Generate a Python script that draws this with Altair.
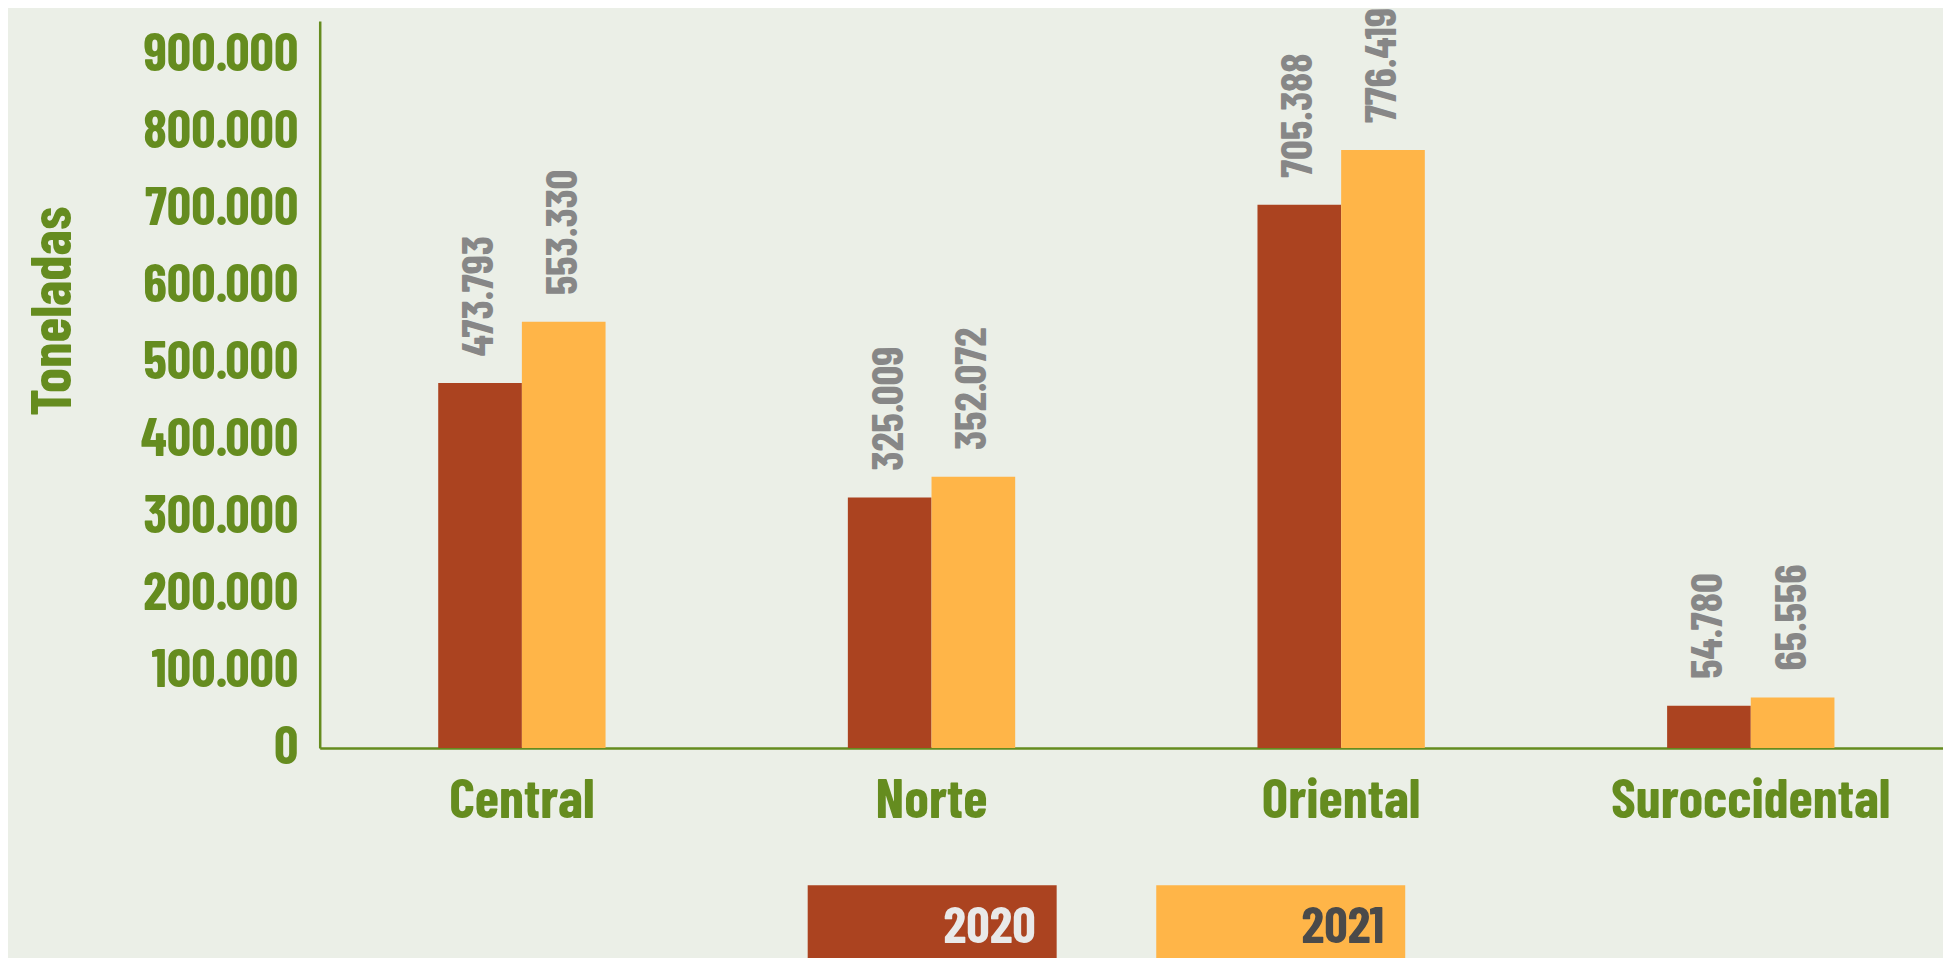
import altair as alt
import pandas as pd

regions = ["Central", "Norte", "Oriental", "Suroccidental"]
years = ["2020", "2021"]
values_2020 = [473793, 325009, 705388, 54780]
values_2021 = [553330, 352072, 776419, 65556]
y_ticks = [0, 100000, 200000, 300000, 400000, 500000, 600000, 700000, 800000, 900000]
bar_colors = ["#AB4320", "#FFB548"]
legend_text_colors = ["#E9E9E9", "#4A4A4A"]

rows = []
for r, a, b in zip(regions, values_2020, values_2021):
    rows.append({"region": r, "year": years[0], "value": a})
    rows.append({"region": r, "year": years[1], "value": b})
df = pd.DataFrame(rows)
df["label"] = df["value"].map(lambda v: f"{v:,}".replace(",", "."))

legend_df = pd.DataFrame({"year": years, "tcolor": legend_text_colors})

FONT = "Barlow Condensed"
GREEN = "#658C1F"
BG = "#EBEFE7"

x_scale = alt.Scale(domain=regions, range=[0, 1640], paddingInner=0.5915, paddingOuter=0.2893)
y_scale = alt.Scale(domain=[0, 944000], nice=False)
color_scale = alt.Scale(domain=years, range=bar_colors)

x_axis = alt.Axis(
    title=None, labelFont=FONT, labelFontSize=56, labelFontWeight="bold",
    labelColor=GREEN, labelPadding=26, labelAngle=0, labelLimit=0, ticks=False,
    domainColor=GREEN, domainWidth=2.5, grid=False,
)
y_axis = alt.Axis(
    values=y_ticks, labelExpr="replace(format(datum.value, ','), ',', '.')",
    title="Toneladas", titleFont=FONT, titleFontSize=57, titleFontWeight="bold",
    titleColor=GREEN, titleAngle=270, titleX=-267, titleY=291,
    titleAlign="center", titleBaseline="middle",
    labelFont=FONT, labelFontSize=54, labelFontWeight="bold", labelColor=GREEN,
    labelPadding=22, labelBaseline="middle", labelLimit=0, ticks=False, grid=False,
    domainColor=GREEN, domainWidth=2.5,
)

base = alt.Chart(df)
bars = base.mark_bar().encode(
    x=alt.X("region:N", scale=x_scale, sort=regions, axis=x_axis),
    xOffset=alt.XOffset("year:N", sort=years),
    y=alt.Y("value:Q", scale=y_scale, axis=y_axis),
    color=alt.Color("year:N", scale=color_scale, legend=None),
)
labels = base.mark_text(
    angle=270, align="left", baseline="middle", dx=27,
    font=FONT, fontSize=44, fontWeight="bold", color="#878787",
).encode(
    x=alt.X("region:N", scale=x_scale, sort=regions, axis=x_axis),
    xOffset=alt.XOffset("year:N", sort=years),
    y=alt.Y("value:Q", scale=y_scale, axis=y_axis),
    text="label:N",
)
main = alt.layer(bars, labels)

leg_scale = alt.Scale(domain=years, range=[490, 1090], paddingInner=0.2857, paddingOuter=0)
leg_rect = alt.Chart(legend_df).mark_rect().encode(
    x=alt.X("year:N", scale=leg_scale, axis=None),
    y=alt.value(868),
    y2=alt.value(1000),
    color=alt.Color("year:N", scale=color_scale, legend=None),
)
leg_text = alt.Chart(legend_df).mark_text(
    align="right", baseline="alphabetic", dx=-21,
    font=FONT, fontSize=52, fontWeight="bold",
).encode(
    x=alt.X("year:N", scale=leg_scale, axis=None, bandPosition=1),
    y=alt.value(926),
    text="year:N",
    color=alt.Color("tcolor:N", scale=None, legend=None),
)
legend = alt.layer(leg_rect, leg_text)

chart = alt.layer(main, legend).resolve_scale(x="independent").properties(
    width=1630, height=730,
    autosize=alt.AutoSizeParams(type="none"),
    padding={"left": 313, "top": 11, "right": 0, "bottom": 209},
    background=BG,
).configure_view(stroke=None)

chart.save("out.html", embed_options={"renderer": "svg", "actions": False})
